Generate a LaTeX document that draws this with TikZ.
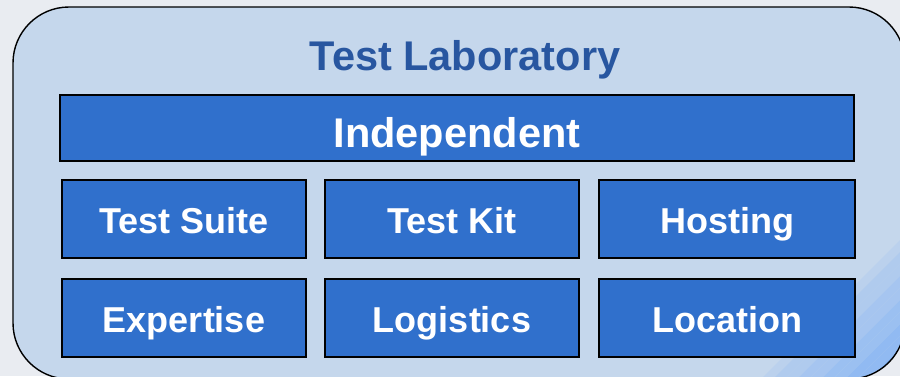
\documentclass[tikz,border=0pt]{standalone}
\usepackage{fontspec}
\setmainfont{Liberation Sans}

\definecolor{pagegray}{HTML}{E9ECF1}
\definecolor{panelblue}{HTML}{C5D7EC}
\definecolor{boxblue}{HTML}{3070CC}
\definecolor{titleblue}{HTML}{2856A0}
\definecolor{stripeblue}{HTML}{6EA6F6}

\tikzset{
  feld/.style={draw=black, line width=1.4pt, fill=boxblue, text=white,
    font=\fontsize{36}{40}\selectfont\bfseries, inner sep=0pt,
    text height=28pt, text depth=0pt, minimum height=78pt},
  rahmen/.style={rounded corners=56pt},
}

\begin{document}
\begin{tikzpicture}[x=1pt,y=-1pt]
   %% Hintergrund
   \fill[pagegray] (0,0) rectangle (900,376);
   \useasboundingbox (0,0) rectangle (900,376);
   \fill[panelblue, rahmen] (13,7) rectangle (905,379);

   %% Streifen
   \begin{scope}
     \clip[rahmen] (13,7) rectangle (905,379);
     \foreach \i in {0,...,11} {
       \pgfmathsetmacro\c{1140+12*\i}
       \pgfmathtruncatemacro\m{12+6*\i+6*mod(\i,2)}
       \fill[stripeblue!\m!panelblue] (\c-400,400) -- (\c-200,200)
         -- (\c-188,200) -- (\c-388,400) -- cycle;
     }
   \end{scope}
   \draw[line width=1.4pt, rahmen] (13,7) rectangle (905,379);

   %% Titel
   \node[anchor=base, text=titleblue, font=\fontsize{41.5}{46}\selectfont\bfseries]
     (titel) at (465,70) {Test Laboratory};

   %% Felder
   \node[feld, minimum width=794pt, minimum height=66pt,
     font=\fontsize{41.5}{46}\selectfont\bfseries, text height=38.7pt]
     (unabh) at (457,128) {Independent};

   \node[feld, minimum width=244pt] (suite) at (184,219) {Test Suite};
   \node[feld, minimum width=254pt] (kit) at (452,219) {Test Kit};
   \node[feld, minimum width=256pt] (hosting) at (727,219) {Hosting};

   \node[feld, minimum width=244pt] (expertise) at (184,318) {Expertise};
   \node[feld, minimum width=254pt] (logistik) at (452,318) {Logistics};
   \node[feld, minimum width=256pt] (ort) at (727,318) {Location};
\end{tikzpicture}
\end{document}
